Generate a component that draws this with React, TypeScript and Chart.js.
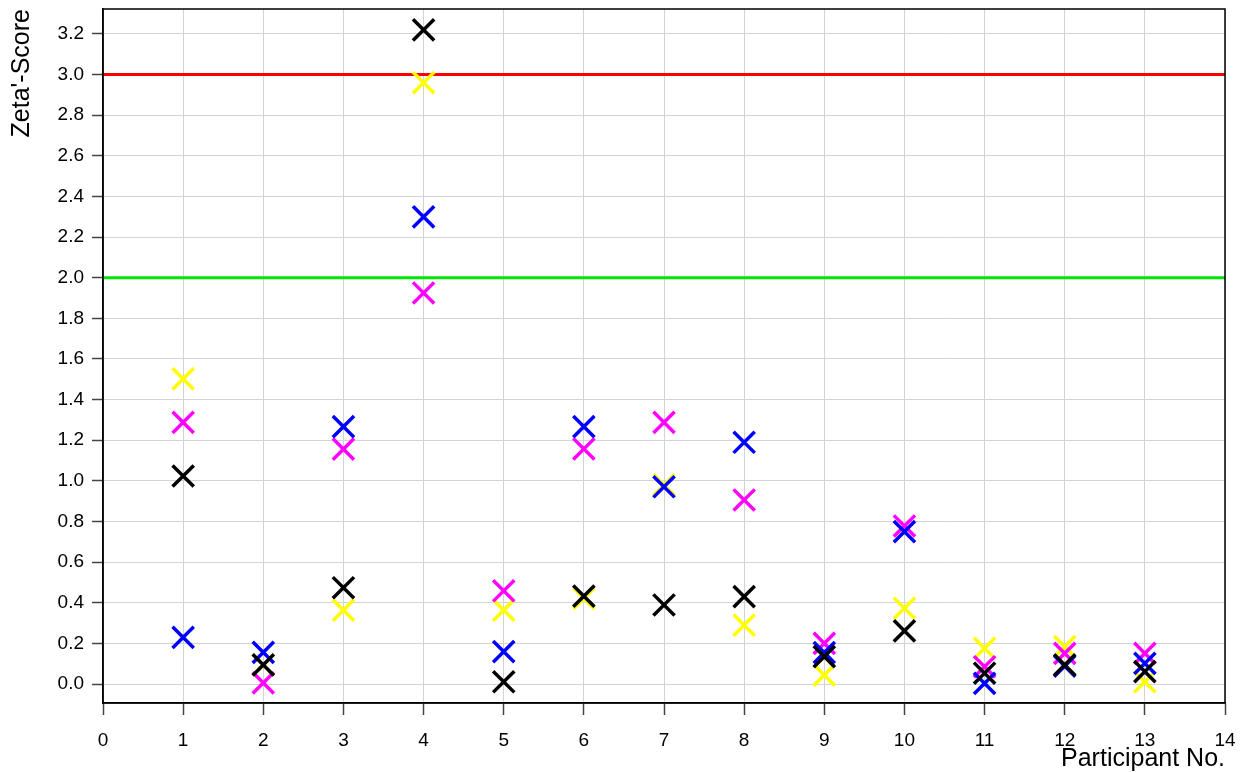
import React, { useEffect, useRef } from "react";
import { Chart, registerables } from "chart.js";

Chart.register(...registerables);

const participants = [1, 2, 3, 4, 5, 6, 7, 8, 9, 10, 11, 12, 13];
const blackScores = [1.024, 0.094, 0.474, 3.22, 0.011, 0.433, 0.389, 0.43, 0.135, 0.262, 0.053, 0.094, 0.061];
const blueScores = [0.23, 0.156, 1.267, 2.3, 0.159, 1.267, 0.971, 1.19, 0.155, 0.75, 0.003, 0.088, 0.102];
const magentaScores = [1.288, 0.006, 1.156, 1.925, 0.459, 1.157, 1.288, 0.906, 0.2, 0.778, 0.085, 0.151, 0.151];
const yellowScores = [1.502, 0.094, 0.364, 2.96, 0.364, 0.422, 0.98, 0.29, 0.044, 0.373, 0.176, 0.184, 0.011];
const warningLimit = 2.0;
const actionLimit = 3.0;
const xRange = [0, 14];

const FONT = "'Liberation Sans', Arial, sans-serif";

const toPoints = (vals: number[]) => participants.map((p, i) => ({ x: p, y: vals[i] }));
const limitLine = (v: number) => xRange.map((x) => ({ x, y: v }));

const framePlugin = {
  id: "frame",
  afterDatasetsDraw(chart: any) {
    const { ctx, chartArea } = chart;
    ctx.save();
    ctx.strokeStyle = "#000";
    ctx.lineWidth = 1.5;
    ctx.strokeRect(chartArea.left, chartArea.top, chartArea.right - chartArea.left, chartArea.bottom - chartArea.top);
    ctx.restore();
  },
};

export default function App() {
  const ref = useRef<HTMLCanvasElement | null>(null);
  useEffect(() => {
    document.body.style.margin = "0";
    if (!ref.current) return;
    const marker = (label: string, color: string, vals: number[]) => ({
      type: "scatter" as const,
      label,
      data: toPoints(vals),
      pointStyle: "crossRot",
      pointRadius: 15,
      pointBorderWidth: 3.5,
      borderColor: color,
      backgroundColor: color,
      showLine: false,
      order: 0,
    });
    const chart = new Chart(ref.current, {
      type: "scatter",
      data: {
        datasets: [
          marker("Black", "#000000", blackScores),
          marker("Blue", "#0000ff", blueScores),
          marker("Magenta", "#ff00ff", magentaScores),
          marker("Yellow", "#ffff00", yellowScores),
          {
            type: "line",
            label: "Action",
            data: limitLine(actionLimit),
            borderColor: "#ff0000",
            borderWidth: 3,
            pointRadius: 0,
            order: 10,
          } as any,
          {
            type: "line",
            label: "Warning",
            data: limitLine(warningLimit),
            borderColor: "#00e600",
            borderWidth: 3,
            pointRadius: 0,
            order: 10,
          } as any,
        ],
      },
      options: {
        animation: false,
        responsive: false,
        events: [],
        layout: { autoPadding: false, padding: { left: 0, right: 23, top: 9, bottom: 0 } },
        plugins: { legend: { display: false }, tooltip: { enabled: false } },
        scales: {
          x: {
            type: "linear",
            min: 0,
            max: 14,
            afterFit: (s: any) => {
              s.height = 69;
              s.paddingLeft = 0;
              s.paddingRight = 0;
            },
            ticks: { stepSize: 1, color: "#000", padding: 14, font: { family: FONT, size: 19 } },
            grid: { color: "#d3d3d3", lineWidth: 1, tickLength: 12, tickColor: "#444", tickWidth: 1.5 },
            border: { display: true, color: "#000", width: 1.5 },
            title: {
              display: true,
              text: "Participant No.",
              align: "end",
              color: "#000",
              font: { family: FONT, size: 25, lineHeight: 1 },
              padding: { top: 0, bottom: 0 },
            },
          },
          y: {
            type: "linear",
            min: -0.0935,
            max: 3.323,
            afterFit: (s: any) => {
              s.width = 103;
              s.paddingTop = 0;
              s.paddingBottom = 0;
            },
            afterBuildTicks: (s: any) => {
              const t = [];
              for (let i = 0; i <= 16; i++) t.push({ value: Math.round(i * 2) / 10 });
              s.ticks = t;
            },
            ticks: {
              color: "#000",
              padding: 8,
              font: { family: FONT, size: 19 },
              callback: (v: any) => Number(v).toFixed(1),
            },
            grid: { color: "#d3d3d3", lineWidth: 1, tickLength: 11, tickColor: "#444", tickWidth: 1.5 },
            border: { display: true, color: "#000", width: 1.5 },
            title: {
              display: true,
              text: "Zeta'-Score",
              align: "end",
              color: "#000",
              font: { family: FONT, size: 25, lineHeight: 1 },
              padding: { top: 10, bottom: 0 },
            },
          },
        },
      },
      plugins: [framePlugin],
    });
    return () => chart.destroy();
  }, []);
  return (
    <div style={{ width: 1248, height: 772, overflow: "hidden", background: "#fff" }}>
      <canvas ref={ref} width={1248} height={772} style={{ display: "block" }} />
    </div>
  );
}
